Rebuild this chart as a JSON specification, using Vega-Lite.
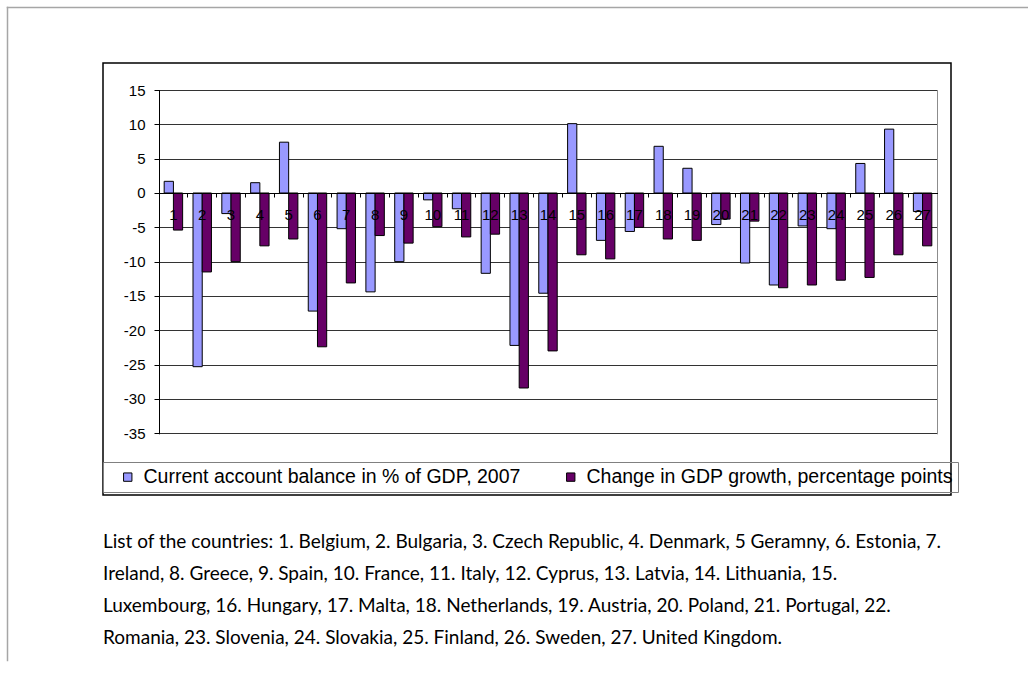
{
  "$schema": "https://vega.github.io/schema/vega-lite/v6.json",
  "autosize": "none",
  "width": 848,
  "height": 432,
  "padding": {"left": 103, "top": 63, "right": 77, "bottom": 179},
  "background": "white",
  "title": {
    "text": [
      "List of the countries: 1. Belgium, 2. Bulgaria, 3. Czech Republic, 4. Denmark, 5 Geramny, 6. Estonia, 7.",
      "Ireland, 8. Greece, 9. Spain, 10. France, 11. Italy, 12. Cyprus, 13. Latvia, 14. Lithuania, 15.",
      "Luxembourg, 16. Hungary, 17. Malta, 18. Netherlands, 19. Austria, 20. Poland, 21. Portugal, 22.",
      "Romania, 23. Slovenia, 24. Slovakia, 25. Finland, 26. Sweden, 27. United Kingdom."
    ],
    "orient": "bottom",
    "anchor": "start",
    "frame": "group",
    "offset": -183,
    "font": "Lato",
    "fontSize": 19,
    "fontWeight": "normal",
    "color": "black",
    "lineHeight": 32
  },
  "data": {
    "values": [
      {"num": 1, "series": "Current account balance in % of GDP, 2007", "value": 1.7},
      {"num": 1, "series": "Change in GDP growth, percentage points", "value": -5.4},
      {"num": 2, "series": "Current account balance in % of GDP, 2007", "value": -25.3},
      {"num": 2, "series": "Change in GDP growth, percentage points", "value": -11.5},
      {"num": 3, "series": "Current account balance in % of GDP, 2007", "value": -3.0},
      {"num": 3, "series": "Change in GDP growth, percentage points", "value": -10.0},
      {"num": 4, "series": "Current account balance in % of GDP, 2007", "value": 1.5},
      {"num": 4, "series": "Change in GDP growth, percentage points", "value": -7.7},
      {"num": 5, "series": "Current account balance in % of GDP, 2007", "value": 7.4},
      {"num": 5, "series": "Change in GDP growth, percentage points", "value": -6.7},
      {"num": 6, "series": "Current account balance in % of GDP, 2007", "value": -17.2},
      {"num": 6, "series": "Change in GDP growth, percentage points", "value": -22.4},
      {"num": 7, "series": "Current account balance in % of GDP, 2007", "value": -5.2},
      {"num": 7, "series": "Change in GDP growth, percentage points", "value": -13.1},
      {"num": 8, "series": "Current account balance in % of GDP, 2007", "value": -14.4},
      {"num": 8, "series": "Change in GDP growth, percentage points", "value": -6.2},
      {"num": 9, "series": "Current account balance in % of GDP, 2007", "value": -10.0},
      {"num": 9, "series": "Change in GDP growth, percentage points", "value": -7.3},
      {"num": 10, "series": "Current account balance in % of GDP, 2007", "value": -1.0},
      {"num": 10, "series": "Change in GDP growth, percentage points", "value": -4.9},
      {"num": 11, "series": "Current account balance in % of GDP, 2007", "value": -2.3},
      {"num": 11, "series": "Change in GDP growth, percentage points", "value": -6.4},
      {"num": 12, "series": "Current account balance in % of GDP, 2007", "value": -11.7},
      {"num": 12, "series": "Change in GDP growth, percentage points", "value": -6.0},
      {"num": 13, "series": "Current account balance in % of GDP, 2007", "value": -22.2},
      {"num": 13, "series": "Change in GDP growth, percentage points", "value": -28.4},
      {"num": 14, "series": "Current account balance in % of GDP, 2007", "value": -14.6},
      {"num": 14, "series": "Change in GDP growth, percentage points", "value": -23.0},
      {"num": 15, "series": "Current account balance in % of GDP, 2007", "value": 10.1},
      {"num": 15, "series": "Change in GDP growth, percentage points", "value": -9.0},
      {"num": 16, "series": "Current account balance in % of GDP, 2007", "value": -6.9},
      {"num": 16, "series": "Change in GDP growth, percentage points", "value": -9.6},
      {"num": 17, "series": "Current account balance in % of GDP, 2007", "value": -5.6},
      {"num": 17, "series": "Change in GDP growth, percentage points", "value": -5.0},
      {"num": 18, "series": "Current account balance in % of GDP, 2007", "value": 6.8},
      {"num": 18, "series": "Change in GDP growth, percentage points", "value": -6.7},
      {"num": 19, "series": "Current account balance in % of GDP, 2007", "value": 3.6},
      {"num": 19, "series": "Change in GDP growth, percentage points", "value": -6.9},
      {"num": 20, "series": "Current account balance in % of GDP, 2007", "value": -4.6},
      {"num": 20, "series": "Change in GDP growth, percentage points", "value": -3.8},
      {"num": 21, "series": "Current account balance in % of GDP, 2007", "value": -10.2},
      {"num": 21, "series": "Change in GDP growth, percentage points", "value": -4.1},
      {"num": 22, "series": "Current account balance in % of GDP, 2007", "value": -13.4},
      {"num": 22, "series": "Change in GDP growth, percentage points", "value": -13.8},
      {"num": 23, "series": "Current account balance in % of GDP, 2007", "value": -4.8},
      {"num": 23, "series": "Change in GDP growth, percentage points", "value": -13.4},
      {"num": 24, "series": "Current account balance in % of GDP, 2007", "value": -5.2},
      {"num": 24, "series": "Change in GDP growth, percentage points", "value": -12.7},
      {"num": 25, "series": "Current account balance in % of GDP, 2007", "value": 4.3},
      {"num": 25, "series": "Change in GDP growth, percentage points", "value": -12.3},
      {"num": 26, "series": "Current account balance in % of GDP, 2007", "value": 9.3},
      {"num": 26, "series": "Change in GDP growth, percentage points", "value": -9.0},
      {"num": 27, "series": "Current account balance in % of GDP, 2007", "value": -2.7},
      {"num": 27, "series": "Change in GDP growth, percentage points", "value": -7.7}
    ]
  },
  "layer": [
    {
      "mark": {"type": "bar", "stroke": "black", "strokeWidth": 1},
      "encoding": {
        "x": {
          "field": "num",
          "type": "ordinal",
          "scale": {"range": [56, 834], "paddingInner": 0.36, "paddingOuter": 0.18},
          "axis": {
            "orient": "bottom",
            "offset": -302,
            "title": null,
            "grid": false,
            "labelAngle": 0,
            "labelFont": "Liberation Sans",
            "labelFontSize": 15,
            "labelColor": "black",
            "labelPadding": 10,
            "tickSize": 4,
            "tickColor": "black",
            "bandPosition": -0.28125,
            "domainColor": "black",
            "domainWidth": 1,
            "zindex": 1
          }
        },
        "xOffset": {
          "field": "series",
          "type": "nominal",
          "scale": {"domain": ["Current account balance in % of GDP, 2007", "Change in GDP growth, percentage points"], "paddingInner": 0}
        },
        "y": {
          "field": "value",
          "type": "quantitative",
          "scale": {"domain": [-35, 15], "range": [370.3, 27], "nice": false, "zero": false},
          "axis": {
            "orient": "left",
            "offset": -56,
            "title": null,
            "values": [15, 10, 5, 0, -5, -10, -15, -20, -25, -30, -35],
            "labelExpr": "datum.value < 0 ? '-' + abs(datum.value) : '' + datum.value",
            "labelFont": "Liberation Sans",
            "labelFontSize": 15,
            "labelColor": "black",
            "labelPadding": 9,
            "tickSize": 5,
            "tickColor": "black",
            "domainColor": "black",
            "grid": true,
            "gridColor": "#333333",
            "gridWidth": 1,
            "zindex": 0
          }
        },
        "color": {
          "field": "series",
          "type": "nominal",
          "scale": {
            "domain": ["Current account balance in % of GDP, 2007", "Change in GDP growth, percentage points"],
            "range": ["#9999ff", "#660066"]
          },
          "legend": {
            "orient": "none",
            "legendX": 0,
            "legendY": 399,
            "direction": "horizontal",
            "columns": 2,
            "title": null,
            "padding": 5,
            "strokeColor": "#808080",
            "symbolType": "square",
            "symbolSize": 70,
            "symbolStrokeColor": "black",
            "symbolStrokeWidth": 1,
            "symbolOffset": 10,
            "labelOffset": 6,
            "labelFont": "Liberation Sans",
            "labelFontSize": 19.5,
            "labelColor": "black",
            "labelLimit": 600,
            "columnPadding": 30
          }
        }
      }
    },
    {
      "mark": {"type": "point", "opacity": 0},
      "encoding": {
        "x": {
          "field": "num",
          "type": "quantitative",
          "scale": {"domain": [0, 28], "range": [-96, 925], "nice": false, "zero": false},
          "axis": {"orient": "top", "offset": 56, "title": null, "labels": false, "ticks": false, "grid": false, "domainColor": "#a6a6a6", "domainWidth": 1.5}
        },
        "y": {
          "field": "value",
          "type": "quantitative",
          "scale": {"domain": [-40, 20], "range": [597, -56], "nice": false, "zero": false},
          "axis": {"orient": "left", "offset": 96, "title": null, "labels": false, "ticks": false, "grid": false, "domainColor": "#a6a6a6", "domainWidth": 1.5}
        }
      }
    },
    {
      "mark": {"type": "point", "opacity": 0},
      "encoding": {
        "y": {
          "field": "value",
          "type": "quantitative",
          "scale": {"domain": [-35, 15], "range": [370.3, 27], "nice": false, "zero": false},
          "axis": {"orient": "right", "offset": -14, "title": null, "labels": false, "ticks": false, "grid": false, "domainColor": "#8c8c8c", "domainWidth": 1}
        }
      }
    }
  ],
  "resolve": {
    "scale": {"x": "independent", "y": "independent"},
    "axis": {"x": "independent", "y": "independent"}
  },
  "config": {
    "view": {"stroke": "black", "strokeWidth": 1.5},
    "axis": {"domainCap": "square"}
  }
}
